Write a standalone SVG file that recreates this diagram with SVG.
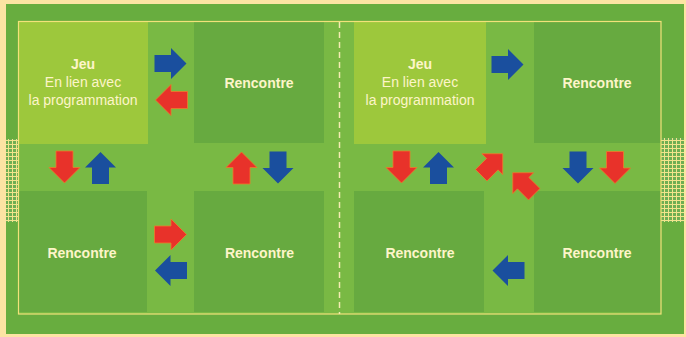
<svg xmlns="http://www.w3.org/2000/svg" width="686" height="337" viewBox="0 0 686 337">
<style>
.jeu{fill:#9dc83c}
.ren{fill:#67aa40}
.t{font-family:"Liberation Sans",Arial,sans-serif;font-size:14px;fill:#fdf5c9;text-anchor:middle}
.b{font-weight:bold}
.blue{fill:#1a4f9e}
.red{fill:#e8322a;stroke:#ef7a2a;stroke-width:0.8}
</style>
<defs>
<path id="arr" d="M-16,-8.5 H0.5 V-15.5 L16,0 L0.5,15.5 V8.5 H-16 Z"/>
<pattern id="net" width="4" height="4" patternUnits="userSpaceOnUse">
<rect width="4" height="4" fill="#6eae52"/>
<path d="M0,0.5 H4 M0.5,0 V4" stroke="#f1e48c" stroke-width="1"/>
</pattern>
</defs>
<rect width="686" height="337" fill="#fce4a3"/>
<rect x="6" y="4" width="678" height="330" fill="#68ad3f"/>
<rect x="18" y="21" width="643" height="293" fill="#79b944"/>
<g id="net-left"><rect x="6" y="139" width="12" height="83" fill="url(#net)"/></g>
<g id="net-right"><rect x="661" y="138" width="23" height="84" fill="url(#net)"/></g>
<g id="jeu1"><rect class="jeu" x="18" y="21" width="130" height="123"/>
<text class="t b" x="83" y="69">Jeu</text>
<text class="t" x="83" y="87">En lien avec</text>
<text class="t" x="83" y="105">la programmation</text></g>
<g id="rencontre1"><rect class="ren" x="194" y="21" width="130" height="122"/>
<text class="t b" x="259" y="88">Rencontre</text></g>
<g id="rencontre2"><rect class="ren" x="18" y="191" width="129" height="121"/>
<text class="t b" x="82" y="258">Rencontre</text></g>
<g id="rencontre3"><rect class="ren" x="194" y="191" width="130" height="121"/>
<text class="t b" x="259.5" y="258">Rencontre</text></g>
<g id="jeu2"><rect class="jeu" x="354" y="21" width="132" height="123"/>
<text class="t b" x="420" y="69">Jeu</text>
<text class="t" x="420" y="87">En lien avec</text>
<text class="t" x="420" y="105">la programmation</text></g>
<g id="rencontre4"><rect class="ren" x="534" y="21" width="127" height="122"/>
<text class="t b" x="597" y="88">Rencontre</text></g>
<g id="rencontre5"><rect class="ren" x="354" y="191" width="130" height="121"/>
<text class="t b" x="420" y="258">Rencontre</text></g>
<g id="rencontre6"><rect class="ren" x="534" y="191" width="127" height="121"/>
<text class="t b" x="597" y="258">Rencontre</text></g>
<g id="lines" fill="none">
<rect x="18.5" y="21.5" width="642.5" height="292.5" stroke="#f2e27a" stroke-width="1.2"/>
<line x1="339.5" y1="22" x2="339.5" y2="314" stroke="#f4ecb0" stroke-width="1.5" stroke-dasharray="6,4"/>
</g>
<g id="connectors">
<use href="#arr" class="blue" transform="translate(170.5,63.5)"/>
<use href="#arr" class="red" transform="translate(171.5,100) rotate(180)"/>
<use href="#arr" class="blue" transform="translate(507.5,64.5)"/>
<use href="#arr" class="red" transform="translate(64.5,167) rotate(90)"/>
<use href="#arr" class="blue" transform="translate(100.5,168) rotate(-90)"/>
<use href="#arr" class="red" transform="translate(241.5,168) rotate(-90)"/>
<use href="#arr" class="blue" transform="translate(278,167.5) rotate(90)"/>
<use href="#arr" class="red" transform="translate(401.5,167) rotate(90)"/>
<use href="#arr" class="blue" transform="translate(438.5,168) rotate(-90)"/>
<use href="#arr" class="red" transform="translate(492,164.5) rotate(-45) scale(0.95)"/>
<use href="#arr" class="red" transform="translate(523.5,183.5) rotate(-135) scale(0.95)"/>
<use href="#arr" class="blue" transform="translate(578,167.5) rotate(90)"/>
<use href="#arr" class="red" transform="translate(615,167.5) rotate(90)"/>
<use href="#arr" class="red" transform="translate(170.5,234.5)"/>
<use href="#arr" class="blue" transform="translate(171,270.5) rotate(180)"/>
<use href="#arr" class="blue" transform="translate(508.5,270.5) rotate(180)"/>
</g>
</svg>
